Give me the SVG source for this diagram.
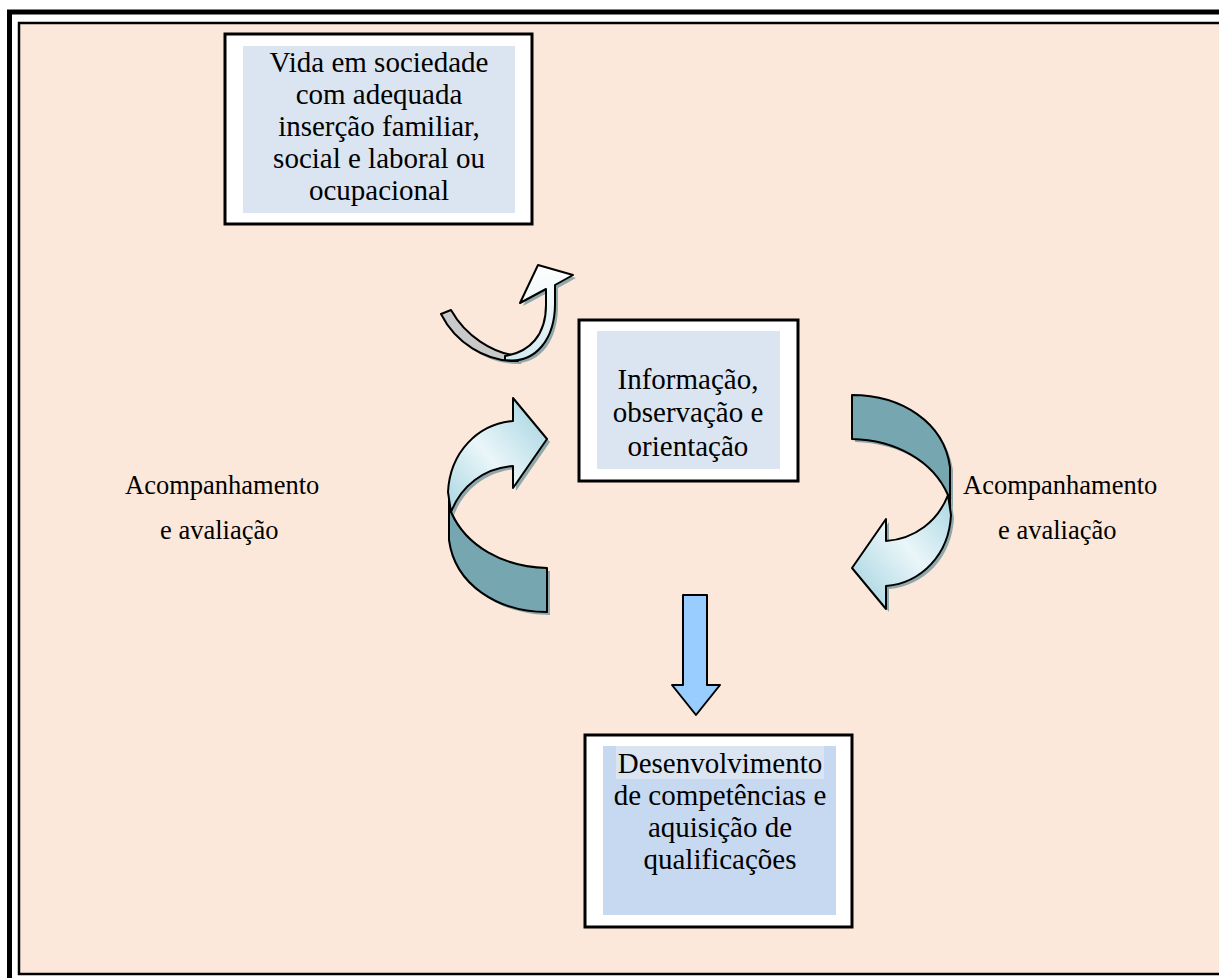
<svg xmlns="http://www.w3.org/2000/svg" xmlns:xlink="http://www.w3.org/1999/xlink" width="1219" height="978" viewBox="0 0 1219 978">
<style>
.t{font-family:"Liberation Serif","Times New Roman",serif;fill:#000;}
.bt{font-size:29px;text-anchor:middle;}
.lb{font-size:26.5px;}
.frame{fill:#fff;stroke:#000;stroke-width:3;}
.inner{fill:#DBE5F1;}
.arr{stroke:#000;stroke-width:2;stroke-linejoin:round;}
.sh{fill:#8FA8AC;}
</style>
<defs>
<linearGradient id="lg" x1="0" y1="1" x2="1" y2="0">
<stop offset="0" stop-color="#A9D6E2"/>
<stop offset="0.45" stop-color="#EAF6F9"/>
<stop offset="1" stop-color="#9ED0DE"/>
</linearGradient>
<linearGradient id="sg" x1="0" y1="0" x2="0" y2="1">
<stop offset="0" stop-color="#FFFFFF"/>
<stop offset="1" stop-color="#D2EAF1"/>
</linearGradient>
<path id="bigDark" d="M 449,498 L 449,540 C 455,585 498,612 547,612 L 547,568 C 503,567 466,546 451,512 Z"/>
<path id="bigLight" d="M 451,512 L 448,492 C 450,452 478,424 513,421 L 513,398 L 547,439 L 513,488 L 513,466 C 484,468 461,486 451,512 Z"/>
<path id="smGray" d="M 441,314 L 451,310 C 465,335 492,354 520,356 L 518,361 C 485,362 455,342 441,314 Z"/>
<path id="smLight" d="M 505,360 C 535,364 556,340 555,300 L 555,285 L 573,275 L 538,265 L 520,303 L 546,289 L 546,305 C 546,335 530,352 505,356 Z"/>
</defs>

<g id="background">
<rect x="9.5" y="12" width="1240" height="990" fill="#fff" stroke="#000" stroke-width="5"/>
<rect x="19" y="23" width="1230" height="951" fill="#FCE8DA" stroke="#000" stroke-width="2.5"/>
</g>

<g id="connectors">
<g id="arrow-top">
<g class="sh" transform="translate(3,3)"><use xlink:href="#smGray"/><use xlink:href="#smLight"/></g>
<use xlink:href="#smGray" class="arr" fill="#C9C9C9"/>
<use xlink:href="#smLight" class="arr" fill="url(#sg)"/>
</g>
<g id="arrow-left">
<g class="sh" transform="translate(3,3)"><use xlink:href="#bigDark"/><use xlink:href="#bigLight"/></g>
<use xlink:href="#bigDark" class="arr" fill="#76A6AF"/>
<use xlink:href="#bigLight" class="arr" fill="url(#lg)"/>
</g>
<g id="arrow-right">
<g class="sh" transform="translate(3,3)"><g transform="matrix(-1 0 0 -1 1399 1007)"><use xlink:href="#bigDark"/><use xlink:href="#bigLight"/></g></g>
<g transform="matrix(-1 0 0 -1 1399 1007)">
<use xlink:href="#bigDark" class="arr" fill="#76A6AF"/>
<use xlink:href="#bigLight" class="arr" fill="url(#lg)"/>
</g>
</g>
<g id="arrow-down">
<polygon class="arr" fill="#99CCFF" stroke-width="1.6" points="683,595 707,595 707,685 720,685 696,715 672,685 683,685"/>
</g>
</g>

<g id="node-vida">
<rect class="frame" x="225" y="34" width="307" height="190"/>
<rect class="inner" x="243" y="46" width="272" height="167"/>
<text class="t bt" x="379" y="72">Vida em sociedade</text>
<text class="t bt" x="379" y="104">com adequada</text>
<text class="t bt" x="379" y="136">inserção familiar,</text>
<text class="t bt" x="379" y="168">social e laboral ou</text>
<text class="t bt" x="379" y="200">ocupacional</text>
</g>

<g id="node-informacao">
<rect class="frame" x="579" y="320" width="219" height="161"/>
<rect class="inner" x="597" y="331" width="183" height="138"/>
<text class="t bt" x="688" y="389">Informação,</text>
<text class="t bt" x="688" y="422">observação e</text>
<text class="t bt" x="688" y="456">orientação</text>
</g>

<g id="node-desenvolvimento">
<rect class="frame" x="585" y="735" width="267" height="192"/>
<rect x="603" y="746" width="233" height="169" fill="#C6D9F1"/>
<rect x="616" y="746" width="208" height="33" fill="#DBE5F1"/>
<text class="t bt" x="720" y="773">Desenvolvimento</text>
<text class="t bt" x="720" y="805">de competências e</text>
<text class="t bt" x="720" y="837">aquisição de</text>
<text class="t bt" x="720" y="869">qualificações</text>
</g>

<g id="label-left">
<text class="t lb" x="125" y="494">Acompanhamento</text>
<text class="t lb" x="160" y="539">e avaliação</text>
</g>
<g id="label-right">
<text class="t lb" x="963" y="494">Acompanhamento</text>
<text class="t lb" x="998" y="539">e avaliação</text>
</g>
</svg>
